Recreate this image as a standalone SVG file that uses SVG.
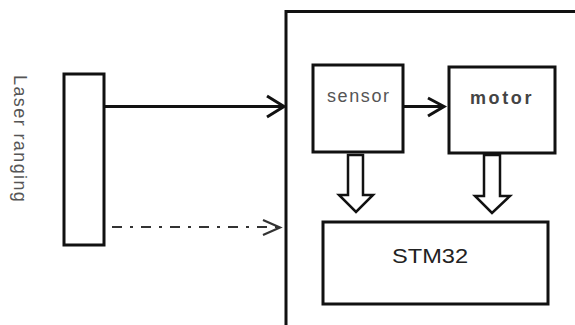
<svg xmlns="http://www.w3.org/2000/svg" width="575" height="325" viewBox="0 0 575 325">
<style>
.box{fill:#fff;stroke:#111;stroke-width:3}
.line{fill:none;stroke:#111;stroke-width:3}
.hollow{fill:#fff;stroke:#111;stroke-width:2.5;stroke-linejoin:miter}
.lbl{font-family:"Liberation Sans",Arial,sans-serif}
</style>
<rect width="575" height="325" fill="#fff"/>
<g id="system">
<path class="line" d="M286,325 V11.5 H580"/>
</g>
<g id="laser">
<rect class="box" x="64" y="74" width="40" height="171"/>
<text class="lbl" transform="translate(14,75) rotate(90)" font-size="18" letter-spacing="1.4" fill="#555">Laser ranging</text>
</g>
<g id="sensor">
<rect class="box" x="313" y="65" width="90" height="87"/>
<text class="lbl" x="327" y="102" font-size="18" letter-spacing="1.6" fill="#555">sensor</text>
</g>
<g id="motor">
<rect class="box" x="449" y="67" width="106" height="86"/>
<text class="lbl" x="470" y="104" font-size="18" font-weight="bold" letter-spacing="2.6" fill="#444">motor</text>
</g>
<g id="stm32">
<rect class="box" x="323" y="222" width="225" height="82"/>
<text class="lbl" x="392" y="263" font-size="20" textLength="76" lengthAdjust="spacingAndGlyphs" fill="#222">STM32</text>
</g>
<g id="connectors">
<path class="line" d="M104,106.5 H284"/>
<path class="line" d="M267,96 L284,106.5 L267,117"/>
<path fill="none" stroke="#333" stroke-width="2.2" d="M112,227 H279" stroke-dasharray="10,8,3,8"/>
<path fill="none" stroke="#333" stroke-width="2.2" d="M263,220 L280,227.5 L263,235"/>
<path class="line" d="M403,106.5 H444"/>
<path class="line" d="M428,98 L444,106.5 L428,116"/>
<path class="hollow" d="M348,155 H363 V195 H373 L356,212 L339,195 H348 Z"/>
<path class="hollow" d="M484,155 H500 V196 H510 L492,213 L475,196 H484 Z"/>
</g>
</svg>
